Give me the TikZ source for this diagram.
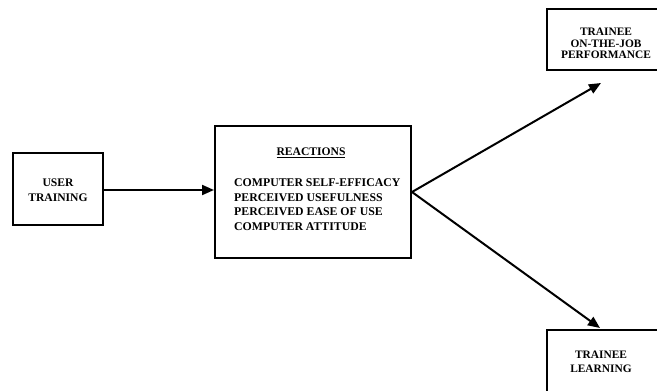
\documentclass[tikz,border=0pt]{standalone}
\usepackage{fontspec}
\setmainfont{Liberation Serif}
\usetikzlibrary{arrows.meta}
\begin{document}
\begin{tikzpicture}[x=1pt,y=-1pt,
  box/.style={draw=black,line width=2pt,fill=white,inner sep=0pt},
  txt/.style={inner sep=0pt,align=center,font=\fontsize{11.6}{14}\selectfont\bfseries},
  conn/.style={line width=2pt,-{Triangle[length=12pt,width=10pt]}}]
\useasboundingbox (0,0) rectangle (657,391);
\begin{scope}
\clip (0,0) rectangle (657,391);
\node[box,minimum width=90pt,minimum height=72pt] (user) at (58,189) {};
\node[txt,font=\fontsize{11.6}{15}\selectfont\bfseries] (usertext) at (58,190.5) {USER\\TRAINING};
\node[box,minimum width=196pt,minimum height=132pt,anchor=north west] (react) at (214,125) {};
\node[txt] (rtitle) at (311,153) {\underline{REACTIONS}};
\node[txt,font=\fontsize{11.8}{14.7}\selectfont\bfseries,align=left,anchor=north west] (ritems) at (234,178.5)
  {COMPUTER SELF-EFFICACY\\PERCEIVED USEFULNESS\\PERCEIVED EASE OF USE\\COMPUTER ATTITUDE};
\node[box,minimum width=114pt,minimum height=61pt,anchor=north west] (perf) at (546,8) {};
\node[txt,font=\fontsize{11.4}{11.7}\selectfont\bfseries] (perftext) at (606,43.5) {TRAINEE\\ON-THE-JOB\\PERFORMANCE};
\node[box,minimum width=114pt,minimum height=70pt,anchor=north west] (learn) at (546,329) {};
\node[txt,font=\fontsize{11.4}{14}\selectfont\bfseries] (learntext) at (601,361.5) {TRAINEE\\LEARNING};
\coordinate (ptip) at (601,83);
\coordinate (ltip) at (600,328);
\draw[conn] (user.east |- 0,190) -- (react.west |- 0,190);
\draw[conn] (react.east) -- (ptip);
\draw[conn] (react.east) -- (ltip);
\end{scope}
\end{tikzpicture}
\end{document}
